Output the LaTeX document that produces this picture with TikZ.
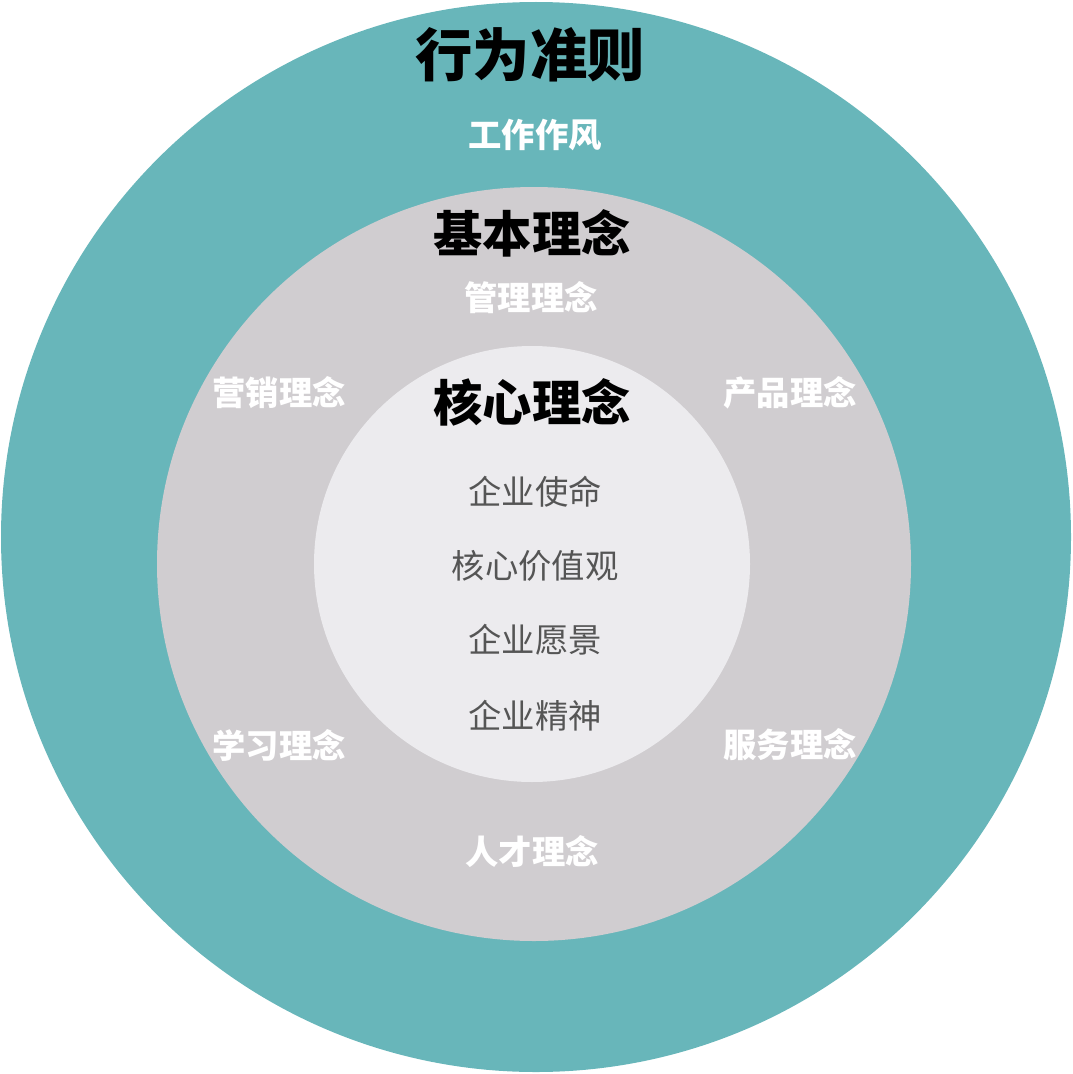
\documentclass[tikz,border=0pt]{standalone}
\usepackage{fontspec}
\setmainfont{Noto Sans CJK SC}
\usepackage{tikz}
\usetikzlibrary{positioning}
\usepackage{xcolor}
\definecolor{ringteal}{RGB}{104,182,186}
\definecolor{ringgray}{RGB}{208,205,208}
\definecolor{coregray}{RGB}{236,235,238}
\definecolor{textgray}{RGB}{85,85,85}

\begin{document}
\begin{tikzpicture}[
    x=0.75pt, y=-0.75pt,
    ring/.style={draw=none},
    head/.style={font=\fontsize{37}{40}\selectfont\bfseries, text=black, inner sep=0pt},
    label/.style={font=\fontsize{25}{28}\selectfont\bfseries, text=white, inner sep=0pt},
    core/.style={font=\fontsize{25}{28}\selectfont, text=textgray, inner sep=0pt}
]
\useasboundingbox (0,0) rectangle (1072,1074);

% Rings
\fill[ring, ringteal] (536,537) circle (535);
\fill[ring, ringgray] (534,564) circle (377);
\fill[ring, coregray] (532,564) circle (218);

% Outer ring
\node[head, font=\fontsize{43}{46}\selectfont\bfseries] (rule) at (530,55) {行为准则};
\node[label] (style) at (535,135) {工作作风};

% Middle ring
\node[head] (basic) at (532,233) {基本理念};
\node[label] (mgmt) at (531,298) {管理理念};
\node[label] (market) at (279,393) {营销理念};
\node[label] (product) at (790,393) {产品理念};
\node[label] (learn) at (279,745) {学习理念};
\node[label] (service) at (790,745) {服务理念};
\node[label] (talent) at (532,852) {人才理念};

% Core
\node[head] (kernel) at (532,402) {核心理念};
\node[core] (mission) at (535,492) {企业使命};
\node[core] (values) at (535,566) {核心价值观};
\node[core] (vision) at (535,640) {企业愿景};
\node[core] (spirit) at (535,716) {企业精神};

\end{tikzpicture}
\end{document}
